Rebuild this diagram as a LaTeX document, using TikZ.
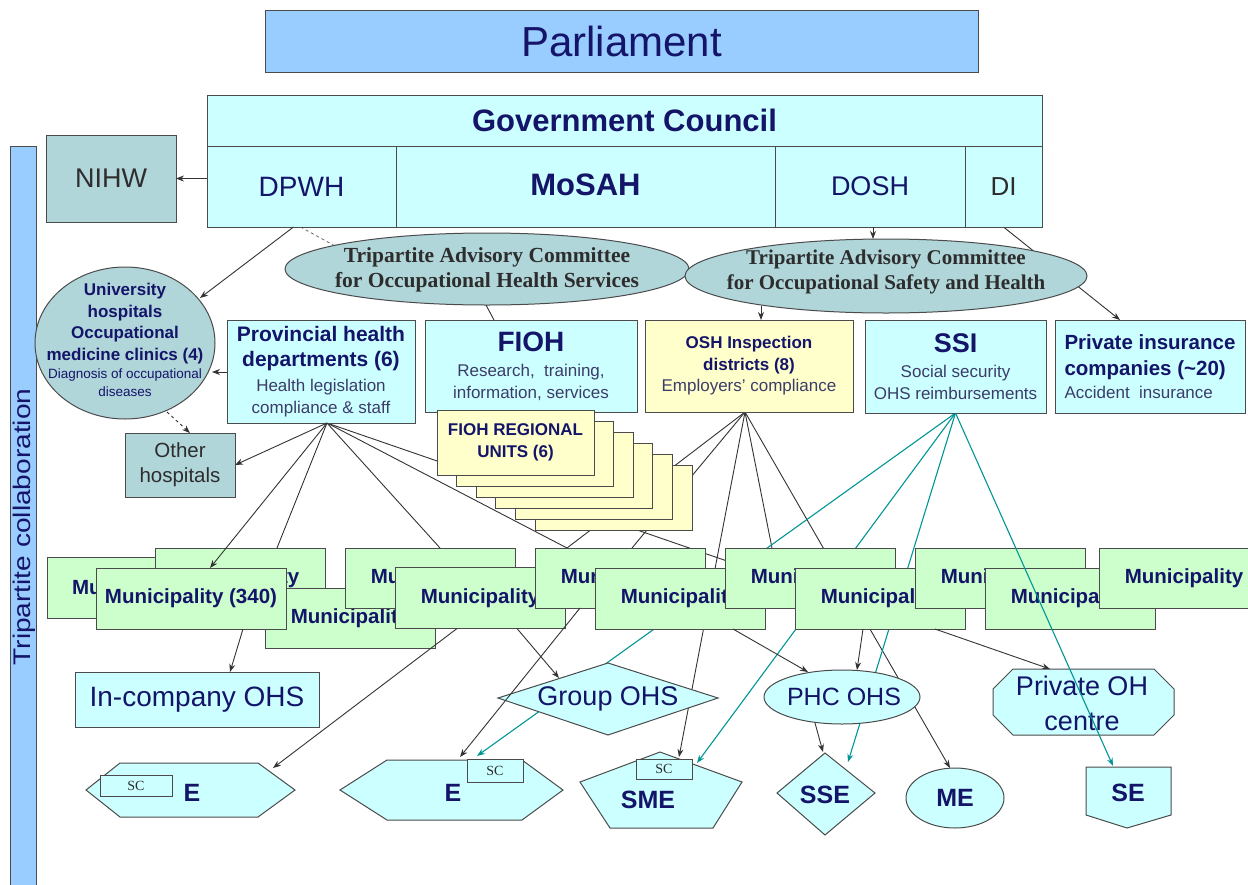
\documentclass[tikz,border=0pt]{standalone}
\usepackage{graphicx}
\usepackage{fontspec}
\setmainfont{Liberation Sans}
\newfontfamily\tnr{Liberation Serif}
\usetikzlibrary{arrows.meta,shapes.geometric}
\pgfdeclarelayer{back}
\pgfdeclarelayer{under}
\pgfsetlayers{back,under,main}
\definecolor{navy}{RGB}{20,20,105}
\definecolor{subnavy}{RGB}{60,60,105}
\definecolor{cyl}{RGB}{204,255,255}
\definecolor{parl}{RGB}{153,204,255}
\definecolor{tgray}{RGB}{176,214,218}
\definecolor{yel}{RGB}{255,255,204}
\definecolor{grn}{RGB}{204,255,204}
\definecolor{tealln}{RGB}{0,150,150}
\definecolor{bord}{RGB}{75,75,75}
\definecolor{dtext}{RGB}{45,45,45}
\newcommand\fsz[2]{\fontsize{#1}{#2}\selectfont}
\tikzset{
  bx/.style={draw=bord, line width=1pt, inner sep=0pt, outer sep=0pt},
  cyb/.style={bx, fill=cyl, text=navy},
  tgb/.style={bx, fill=tgray, text=dtext},
  mun/.style={bx, fill=grn, text=navy, minimum width=170, minimum height=60, font=\bfseries\fsz{20.5}{24}},
  stk/.style={bx, fill=yel, text=navy, minimum width=157, minimum height=65, font=\bfseries\fsz{17}{22}, align=center},
  ln/.style={draw=black!80, line width=0.9pt},
  arr/.style={ln, -{Stealth[length=8pt,width=6pt]}},
  tarr/.style={draw=tealln, line width=1.1pt, -{Stealth[length=8pt,width=6pt]}},
  lowsh/.style={draw=bord, line width=1pt, fill=cyl},
  lbl/.style={text=navy, font=\bfseries\fsz{25}{28}, inner sep=0pt},
  scb/.style={bx, fill=cyl, text=dtext, font=\tnr\fsz{14}{16}},
  tx/.style={inner sep=0pt},
}
\begin{document}
\begin{tikzpicture}[x=1pt,y=-1pt]
\begin{pgfonlayer}{back}
\fill[white] (0,0) rectangle (1248,884);
\end{pgfonlayer}
\useasboundingbox (0,0) rectangle (1248,884);

% named connector ends
\coordinate (univtip) at (200,298);
\coordinate (univr) at (212,372);
\coordinate (univb) at (167,412);
\coordinate (ohsl) at (335,246);
\coordinate (ohsb) at (486,305);
\coordinate (osheb) at (761,306);
\coordinate (e1tip) at (273,768);
\coordinate (e2a) at (460,757);
\coordinate (e2b) at (477,756);
\coordinate (grpa) at (559,678);
\coordinate (smea) at (679,757);
\coordinate (smeb) at (697,763);
\coordinate (phca) at (808,672);
\coordinate (phcb) at (857,670);
\coordinate (phcc) at (815,723);
\coordinate (ssea) at (823,752);
\coordinate (sseb) at (848,762);
\coordinate (mea) at (950,768);
\coordinate (poha) at (1050,669);
\coordinate (sea) at (1113,766);
\coordinate (b6l) at (727,561);

% Parliament and government
\node[bx, fill=parl, text=navy, minimum width=713, minimum height=62, font=\fsz{42}{48}] (parl) at (621.5,41) {Parliament};
\node[cyb, minimum width=835, minimum height=51, font=\bfseries\fsz{31}{36}] (gc) at (624.5,120.5) {Government Council};
\node[cyb, minimum width=189, minimum height=81, font=\fsz{28}{32}] (dpwh) at (301.5,186.5) {\raisebox{-4pt}{DPWH}};
\node[cyb, minimum width=379, minimum height=81, font=\bfseries\fsz{31}{36}] (mosah) at (585.5,186.5) {\raisebox{3pt}{MoSAH}};
\node[cyb, minimum width=190, minimum height=81, font=\fsz{27}{32}] (dosh) at (870,186.5) {\raisebox{1pt}{DOSH}};
\node[cyb, minimum width=77, minimum height=81, text=dtext, font=\fsz{26}{30}] (di) at (1003.5,186.5) {DI};
\node[tgb, minimum width=130, minimum height=87, font=\fsz{27}{30}] (nihw) at (111,178.5) {NIHW};
\node[bx, fill=parl, minimum width=26, minimum height=740] (tbar) at (23,516) {};
\node[tx, rotate=90, text=navy, font=\fsz{24}{28}] (tbart) at (24,527) {\scalebox{1.17}[1]{Tripartite collaboration}};

% second row
\node[bx, ellipse, fill=tgray, minimum width=180, minimum height=152] (univ) at (125,343) {};
\node[tx, align=center, text=navy, font=\bfseries\fsz{17}{21.5}] (univt) at (125,340) {University\\hospitals\\Occupational\\medicine clinics (4)\\[-3pt]{\mdseries\fsz{13.5}{16}Diagnosis of occupational}\\[-3.5pt]{\mdseries\fsz{13.5}{16}diseases}};
\node[cyb, minimum width=188, minimum height=103, align=center, font=\fsz{21}{25}] (prov) at (321,371.5) {{\bfseries Provincial health}\\{\bfseries departments (6)}\\{\color{subnavy}\fsz{17}{20}Health legislation}\\[-3pt]{\color{subnavy}\fsz{17}{20}compliance \& staff}};
\node[cyb, minimum width=212, minimum height=92, align=center, font=\fsz{17}{22}] (fioh) at (531,366) {{\bfseries\fsz{28}{30}FIOH}\\[3pt]{\color{subnavy}Research,\ \ training,}\\{\color{subnavy}information,\ services}};
\node[bx, fill=yel, text=navy, minimum width=208, minimum height=92, align=center, font=\fsz{17}{21.5}] (osh) at (749,366) {{\bfseries OSH Inspection}\\{\bfseries districts (8)}\\{\color{subnavy}Employers' compliance}};
\node[cyb, minimum width=181, minimum height=93, align=center, font=\fsz{17}{22}] (ssi) at (955.5,366.5) {{\bfseries\fsz{27}{30}SSI}\\[3pt]{\color{subnavy}Social security}\\{\color{subnavy}OHS reimbursements}};
\node[cyb, minimum width=190, minimum height=93, align=left, font=\fsz{20.5}{26}] (pins) at (1150,366.5) {{\bfseries Private insurance}\\{\bfseries companies (\textasciitilde20)}\\[-3pt]{\color{subnavy}\fsz{17}{20}Accident\ \ insurance}};
\node[tgb, minimum width=110, minimum height=64, align=center, font=\fsz{20.5}{25}] (other) at (180,465) {Other\\hospitals};
\coordinate (provhub) at ([xshift=6]prov.south);
\coordinate (oshhub) at ([xshift=-4]osh.south);

% committees
\node[bx, ellipse, fill=tgray, minimum width=404, minimum height=72] (ohs) at (487,269) {};
\node[tx, align=center, text=dtext, font=\tnr\bfseries\fsz{21.5}{25.5}] (ohst) at (487,270) {Tripartite Advisory Committee\\for Occupational Health Services};
\node[bx, ellipse, fill=tgray, minimum width=402, minimum height=74] (oshe) at (886,276) {};
\node[tx, align=center, text=dtext, font=\tnr\bfseries\fsz{21}{25.5}] (oshet) at (886,272) {Tripartite Advisory Committee\\for Occupational Safety and Health};

% FIOH regional units stack
\foreach \k in {5,4,3,2,1}{\node[stk] (fru\k) at ({515.5+19.6*\k},{442.5+11*\k}) {};}
\node[stk] (fru0) at (515.5,442.5) {FIOH REGIONAL\\UNITS (6)};

% municipalities
\node[mun, minimum height=61] (m1) at (132,587.5) {\makebox[120pt][l]{Mu}};
\node[mun] (m2) at (240,578) {Municipality};
\node[mun] (m3) at (350,618) {Municipality};
\node[mun] (m4) at (430,578) {Municipality};
\node[mun, minimum width=190, minimum height=61] (m5) at (191,598.5) {Municipality (340)};
\node[mun, minimum height=61] (m6) at (480,598) {Municipality};
\node[mun] (m7) at (620,578) {Municipality};
\node[mun, minimum height=61] (m8) at (680,598.5) {Municipality};
\node[mun] (m9) at (810,578) {Municipality};
\node[mun, minimum height=61] (m10) at (880,598.5) {Municipality};
\node[mun] (m11) at (1000,578) {Municipality};
\node[mun, minimum height=61] (m12) at (1070,598.5) {Municipality};
\node[mun] (m13) at (1184,578) {Municipality};

% lower level
\node[cyb, minimum width=244, minimum height=55, font=\fsz{28}{32}] (incomp) at (197,699.5) {In-company OHS};
\draw[lowsh] (86,790) -- (120,763) -- (258,763) -- (295,790) -- (258,817) -- (120,817) -- cycle;
\node[scb, minimum width=72, minimum height=21] (sc1) at (136,785.5) {SC};
\node[lbl] (e1) at (192,793) {E};
\draw[lowsh] (340,790) -- (387,760) -- (522,760) -- (563,790) -- (522,820) -- (387,820) -- cycle;
\node[scb, minimum width=56, minimum height=23] (sc2) at (495,770.5) {SC};
\node[lbl] (e2) at (453,793) {E};
\draw[lowsh] (498,698) -- (608,663) -- (718,698) -- (608,735) -- cycle;
\node[tx, text=navy, font=\fsz{27}{30}] (grp) at (608,699) {Group OHS};
\draw[lowsh] (660,752) -- (742,782) -- (713,828) -- (610,828) -- (580,782) -- cycle;
\node[scb, minimum width=56, minimum height=20] (sc3) at (664,769) {SC};
\node[lbl] (sme) at (648,800) {SME};
\node[bx, ellipse, fill=cyl, minimum width=156, minimum height=54] (phc) at (842,697) {};
\node[tx, text=navy, font=\fsz{25}{28}] (phct) at (844,697) {PHC OHS};
\draw[lowsh] (777,793) -- (825,753) -- (875,793) -- (825,835) -- cycle;
\node[lbl] (sse) at (825,795) {SSE};
\node[bx, ellipse, fill=cyl, minimum width=98, minimum height=60, text=navy, font=\bfseries\fsz{25}{28}] (me) at (955,798) {ME};
\draw[lowsh] (1013,669) -- (1154,669) -- (1174,689) -- (1174,715) -- (1154,735) -- (1013,735) -- (993,715) -- (993,689) -- cycle;
\node[tx, align=center, text=navy, font=\fsz{27}{35}] (poh) at (1082,703) {Private OH\\centre};
\draw[lowsh] (1086,767) -- (1171,767) -- (1171,815) -- (1127,828) -- (1086,815) -- cycle;
\node[lbl] (se) at (1128,793) {SE};

% connectors hidden behind shapes
\begin{pgfonlayer}{under}
\draw[arr] (di.south) -- ([xshift=-30]pins.north);
\draw[ln, dashed, draw=black!55] ([xshift=-1]dpwh.south) -- (ohsl);
\draw[ln] (provhub) -- ([xshift=-53]m7.north);
\draw[ln] (provhub) -- (b6l);
\draw[ln] (oshhub) -- ([xshift=-53]m7.north);
\draw[ln] (oshhub) -- ([xshift=12]m7.north);
\draw[arr] (oshhub) -- (smea);
\draw[ln] (oshhub) -- ([xshift=-38]m9.north);
\draw[arr] (oshhub) -- (mea);
\draw[tarr] (ssi.south) -- (e2b);
\draw[tarr] (ssi.south) -- (smeb);
\draw[tarr] (ssi.south) -- (sseb);
\end{pgfonlayer}

% connectors on top
\draw[arr] (dpwh.west |- nihw.east) -- (nihw.east);
\draw[arr] ([xshift=-8]dpwh.south) -- (univtip);
\draw[arr] ([xshift=3]dosh.south) -- ([xshift=-13]oshe.north);
\draw[arr] (osheb) -- ([xshift=12]osh.north);
\draw[ln] (ohsb) -- ([xshift=-37]fioh.north);
\draw[arr] ([yshift=-0.5]prov.west) -- (univr);
\draw[arr, dashed] (univb) -- ([xshift=10]other.north);
\draw[arr] (provhub) -- (other.east);
\draw[arr] (provhub) -- ([xshift=19]m5.north);
\draw[ln] (provhub) -- ([xshift=37]m2.north);
\draw[ln] (provhub) -- ([xshift=10]m4.north);
\draw[arr] ([xshift=52]m5.south) -- ([xshift=33]incomp.north);
\draw[arr] ([xshift=-23]m6.south) -- (e1tip);
\draw[arr] ([xshift=37]m6.south) -- (grpa);
\draw[arr] ([xshift=-40]m7.south) -- (e2a);
\draw[arr] ([xshift=53]m8.south) -- (phca);
\draw[arr] ([xshift=-17]m10.south) -- (phcb);
\draw[arr] ([xshift=55]m10.south) -- (poha);
\draw[arr] (phcc) -- (ssea);
\draw[tarr] (ssi.south) -- (sea);
\end{tikzpicture}
\end{document}
